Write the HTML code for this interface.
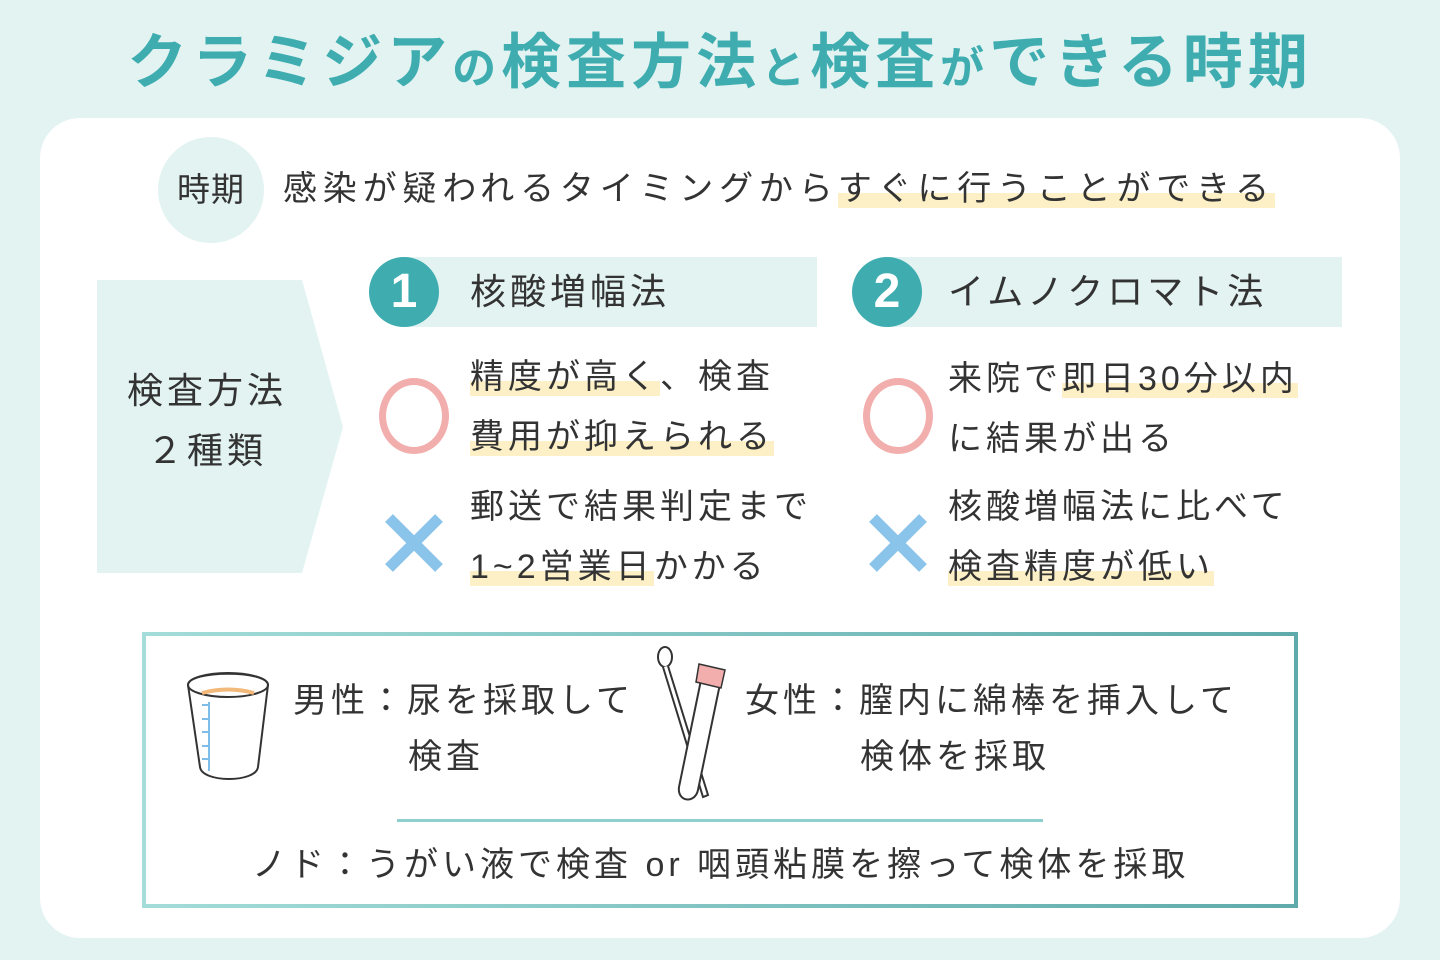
<!DOCTYPE html>
<html><head><meta charset="utf-8"><style>
body{margin:0;width:1440px;height:960px;background:#e2f3f2;position:relative;overflow:hidden;font-family:"Liberation Sans","Noto Sans CJK JP",sans-serif;color:#333;}
.a{position:absolute;white-space:nowrap;}
.t{font-size:34px;line-height:34px;letter-spacing:4px;}
.hl{background:linear-gradient(transparent 60%,#fdf0c6 60%);}
</style></head><body>
<div class="a" style="left:0;width:1440px;top:28px;text-align:center;font-size:60px;line-height:70px;font-weight:bold;color:#3fadb0;letter-spacing:5px">クラミジア<span style="font-size:44px">の</span>検査方法<span style="font-size:44px">と</span>検査<span style="font-size:44px">が</span>できる時期</div>
<div class="a" style="left:40px;top:118px;width:1360px;height:820px;background:#fff;border-radius:40px"></div>

<div class="a" style="left:158px;top:137px;width:106px;height:106px;border-radius:50%;background:#e2f3f2"></div>
<div class="a t" style="left:158px;width:106px;text-align:center;top:173px;font-size:33px;letter-spacing:1px">時期</div>
<div class="a t" style="left:283px;top:172px;letter-spacing:5.8px">感染が疑われるタイミングから<span class="hl">すぐに行うことができる</span></div>

<svg class="a" style="left:97px;top:280px" width="250" height="294"><polygon points="0,0 205,0 246,147 205,293 0,293" fill="#e2f3f2"/></svg>
<div class="a t" style="left:97px;width:220px;text-align:center;top:373px;font-size:36px;line-height:36px">検査方法</div>
<div class="a t" style="left:97px;width:220px;text-align:center;top:433px;font-size:36px;line-height:36px">２種類</div>

<div class="a" style="left:404px;top:257px;width:413px;height:70px;background:#e2f3f2"></div>
<div class="a" style="left:369px;top:257px;width:70px;height:70px;border-radius:50%;background:#3fadb0;color:#fff;font-weight:bold;font-size:48px;line-height:70px;text-align:center">1</div>
<div class="a t" style="left:470px;top:274px;font-size:36px;line-height:36px">核酸増幅法</div>

<div class="a" style="left:888px;top:257px;width:454px;height:70px;background:#e2f3f2"></div>
<div class="a" style="left:852px;top:257px;width:70px;height:70px;border-radius:50%;background:#3fadb0;color:#fff;font-weight:bold;font-size:48px;line-height:70px;text-align:center">2</div>
<div class="a t" style="left:948px;top:274px;font-size:36px;line-height:36px">イムノクロマト法</div>

<div class="a" style="left:379px;top:378px;width:56px;height:62px;border:7px solid #f2aeac;border-radius:50%"></div>
<div class="a" style="left:863px;top:378px;width:56px;height:62px;border:7px solid #f2aeac;border-radius:50%"></div>
<svg class="a" style="left:385px;top:514px" width="58" height="58"><path d="M4 4L54 54M54 4L4 54" stroke="#8ac4ea" stroke-width="11"/></svg>
<svg class="a" style="left:869px;top:514px" width="58" height="58"><path d="M4 4L54 54M54 4L4 54" stroke="#8ac4ea" stroke-width="11"/></svg>

<div class="a t" style="left:470px;top:360px"><span class="hl">精度が高く</span>、検査</div>
<div class="a t" style="left:470px;top:420px"><span class="hl">費用が抑えられる</span></div>
<div class="a t" style="left:470px;top:490px">郵送で結果判定まで</div>
<div class="a t" style="left:470px;top:550px"><span class="hl">1~2営業日</span>かかる</div>

<div class="a t" style="left:948px;top:362px">来院で<span class="hl">即日30分以内</span></div>
<div class="a t" style="left:948px;top:422px">に結果が出る</div>
<div class="a t" style="left:948px;top:490px">核酸増幅法に比べて</div>
<div class="a t" style="left:948px;top:550px"><span class="hl">検査精度が低い</span></div>

<div class="a" style="left:142px;top:632px;width:1156px;height:276px;box-sizing:border-box;border:4px solid;border-image:linear-gradient(90deg,#a3dcd9,#5fabab) 1"></div>
<svg class="a" style="left:180px;top:665px" width="100" height="125">
<path d="M8 20 C8 5 88 5 88 20 L78 102 C76 118 22 118 20 102 Z" fill="#fff" stroke="#333" stroke-width="2"/>
<ellipse cx="48" cy="20" rx="40" ry="12" fill="none" stroke="#333" stroke-width="2"/>
<path d="M22 28 Q48 21 74 28" stroke="#f2b97a" stroke-width="4" fill="none"/>
<path d="M29 37V106M22 40h7M22 54h7M22 67h7M22 81h7M22 94h7" stroke="#7fbde8" stroke-width="2" fill="none"/>
</svg>
<svg class="a" style="left:650px;top:642px" width="90" height="160">
<ellipse cx="15" cy="15" rx="7" ry="10" fill="#fff" stroke="#333" stroke-width="2"/>
<path d="M13 25 L53 155 L58 153 L18 24" fill="#fff" stroke="#333" stroke-width="2"/>
<path d="M51 38 L29 145 C27 160 45 162 48 148 L70 42" fill="#fff" stroke="#333" stroke-width="2"/>
<path d="M49 22 L75 28 L71 46 L46 40 Z" fill="#f2aeac" stroke="#333" stroke-width="1.5"/>
</svg>
<div class="a t" style="left:293px;top:684px">男性：尿を採取して</div>
<div class="a t" style="left:408px;top:740px">検査</div>
<div class="a t" style="left:745px;top:684px">女性：膣内に綿棒を挿入して</div>
<div class="a t" style="left:860px;top:740px">検体を採取</div>
<div class="a" style="left:397px;top:819px;width:646px;height:3px;background:#8fcfcf"></div>
<div class="a t" style="left:252px;top:848px">ノド：うがい液で検査 or 咽頭粘膜を擦って検体を採取</div>
</body></html>
